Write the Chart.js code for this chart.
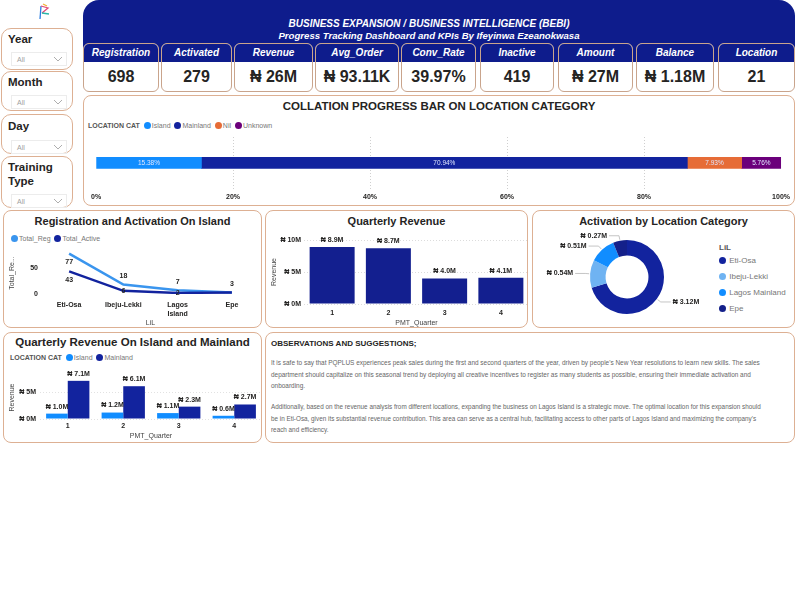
<!DOCTYPE html>
<html>
<head>
<meta charset="utf-8">
<script src="https://cdn.jsdelivr.net/npm/chart.js@4.4.1/dist/chart.umd.min.js"></script>
<style>
body{margin:0;width:800px;height:600px;background:#fff;font-family:"Liberation Sans",Arial,sans-serif;position:relative;overflow:hidden}
.abs{position:absolute}
.box{position:absolute;border:1px solid #ddb093;border-radius:8px;background:#fff;box-sizing:border-box}
.slicer{position:absolute;left:1px;width:72px;border:1px solid #ddb093;border-radius:10px;box-sizing:border-box;background:#fff}
.slicer .name{position:absolute;left:6px;font-weight:bold;font-size:11.5px;color:#252423;line-height:14px}
.slicer .dd{position:absolute;left:9px;width:56px;height:14px;border:1px solid #ececec;box-sizing:border-box;font-size:7px;color:#a0a0a0;line-height:13px;padding-left:5px}
.slicer .dd svg{position:absolute;right:4px;top:4px}
.ttl{position:absolute;left:0;right:0;text-align:center;font-weight:bold;font-size:11px;color:#252423;line-height:12px;white-space:nowrap}
.lg{position:absolute;font-size:7px;color:#777;white-space:nowrap;line-height:9px}
.lg b{color:#555;margin-right:2px}
.dot{display:inline-block;width:7px;height:7px;border-radius:50%;vertical-align:-1px;margin:0 1px 0 2px}
.cv{position:absolute}
.card{position:absolute;top:43px;height:49px;border:1px solid #c9a48c;border-radius:6px;box-sizing:border-box;overflow:hidden;background:#fff}
.card .hd{height:18px;background:#0e1c8c;color:#fff;font-style:italic;font-weight:bold;font-size:10px;line-height:18px;text-align:center}
.card .vl{font-weight:bold;font-size:16px;line-height:30px;text-align:center;color:#252423}
.obs div{white-space:nowrap;color:#666;line-height:11.6px}
</style>
</head>
<body>

<!-- logo -->
<svg class="abs" style="left:37px;top:2px" width="14" height="19" viewBox="0 0 14 19">
  <path d="M3 17 L4 4" stroke="#2a7de1" stroke-width="1.3" fill="none"/>
  <path d="M4 4 L11 6 L5 11" stroke="#e04a7a" stroke-width="1.3" fill="none"/>
  <path d="M5 11 L12 12" stroke="#29b6a8" stroke-width="1.3" fill="none"/>
  <path d="M6 2 L10 4" stroke="#f2b233" stroke-width="1.3" fill="none"/>
</svg>

<!-- slicers -->
<div class="slicer" style="top:28px;height:42px"><div class="name" style="top:3px">Year</div><div class="dd" style="top:23px">All<svg width="8" height="5"><polyline points="0,0 4,4 8,0" fill="none" stroke="#999" stroke-width="0.8"/></svg></div></div>
<div class="slicer" style="top:71px;height:40px"><div class="name" style="top:3px">Month</div><div class="dd" style="top:23px">All<svg width="8" height="5"><polyline points="0,0 4,4 8,0" fill="none" stroke="#999" stroke-width="0.8"/></svg></div></div>
<div class="slicer" style="top:114px;height:40px"><div class="name" style="top:4px">Day</div><div class="dd" style="top:25px">All<svg width="8" height="5"><polyline points="0,0 4,4 8,0" fill="none" stroke="#999" stroke-width="0.8"/></svg></div></div>
<div class="slicer" style="top:156px;height:52px"><div class="name" style="top:3px">Training<br>Type</div><div class="dd" style="top:37px">All<svg width="8" height="5"><polyline points="0,0 4,4 8,0" fill="none" stroke="#999" stroke-width="0.8"/></svg></div></div>

<!-- banner -->
<div class="abs" style="left:83px;top:0;width:712px;height:62px;background:#0e1c8c;border-radius:16px 16px 0 0"></div>
<div class="abs" style="left:83px;width:692px;top:18px;text-align:center;color:#fff;font-weight:bold;font-style:italic;font-size:10px;line-height:12px">BUSINESS EXPANSION / BUSINESS INTELLIGENCE (BEBI)</div>
<div class="abs" style="left:83px;width:692px;top:30px;text-align:center;color:#fff;font-weight:bold;font-style:italic;font-size:9.6px;line-height:11px">Progress Tracking Dashboard and KPIs By Ifeyinwa Ezeanokwasa</div>
<div id="cards"></div>

<!-- collation progress -->
<div class="box" style="left:83px;top:95px;width:712px;height:111px">
  <div class="ttl" style="top:4px;font-size:11.5px">COLLATION PROGRESS BAR ON LOCATION CATEGORY</div>
  <div class="lg" id="lgProg" style="left:4px;top:25px"></div>
</div>
<div class="cv" style="left:87px;top:132px;width:707px;height:77px"><canvas id="cProg"></canvas></div>

<!-- registration & activation -->
<div class="box" style="left:3px;top:210px;width:259px;height:118px">
  <div class="ttl" style="top:4px">Registration and Activation On Island</div>
  <div class="lg" id="lgLine" style="left:5px;top:23px"></div>
</div>
<div class="cv" style="left:6px;top:243px;width:253px;height:84px"><canvas id="cLine"></canvas></div>

<!-- quarterly revenue -->
<div class="box" style="left:265px;top:210px;width:263px;height:118px">
  <div class="ttl" style="top:4px">Quarterly Revenue</div>
</div>
<div class="cv" style="left:268px;top:230px;width:261px;height:97px"><canvas id="cQtr"></canvas></div>

<!-- activation donut -->
<div class="box" style="left:532px;top:210px;width:263px;height:118px">
  <div class="ttl" style="top:4px">Activation by Location Category</div>
  <div class="lg" id="lgDonut" style="left:186px;top:32px;line-height:16px;font-size:8px"></div>
</div>
<div class="cv" style="left:540px;top:232px;width:174px;height:90px"><canvas id="cDonut"></canvas></div>

<!-- island vs mainland -->
<div class="box" style="left:3px;top:332px;width:259px;height:111px">
  <div class="ttl" style="top:3px;font-size:11.5px">Quarterly Revenue On Island and Mainland</div>
  <div class="lg" id="lgGroup" style="left:6px;top:20px"></div>
</div>
<div class="cv" style="left:6px;top:362px;width:256px;height:78px"><canvas id="cGroup"></canvas></div>

<!-- observations -->
<div class="box obs" style="left:265px;top:332px;width:530px;height:111px">
  <div style="position:absolute;left:5px;top:5px;font-weight:bold;font-size:8px;color:#252423">OBSERVATIONS AND SUGGESTIONS;</div>
  <div id="p1" style="position:absolute;left:5px;top:24px;font-size:6px">
    <div>It is safe to say that PQPLUS experiences peak sales during the first and second quarters of the year, driven by people's New Year resolutions to learn new skills. The sales</div>
    <div>department should capitalize on this seasonal trend by deploying all creative incentives to register as many students as possible, ensuring their immediate activation and</div>
    <div>onboarding.</div>
  </div>
  <div id="p2" style="position:absolute;left:5px;top:68px;font-size:6px">
    <div>Additionally, based on the revenue analysis from different locations, expanding the business on Lagos Island is a strategic move. The optimal location for this expansion should</div>
    <div>be in Eti-Osa, given its substantial revenue contribution. This area can serve as a central hub, facilitating access to other parts of Lagos Island and maximizing the company's</div>
    <div>reach and efficiency.</div>
  </div>
</div>

<script>
// KPI values
const kpiLabels = ['Registration', 'Activated', 'Revenue', 'Avg_Order', 'Conv_Rate', 'Inactive', 'Amount', 'Balance', 'Location'];
const kpiValues = ['698', '279', '₦ 26M', '₦ 93.11K', '39.97%', '419', '₦ 27M', '₦ 1.18M', '21'];

// collation progress bar
const locationCats = ['Island', 'Mainland', 'Nil', 'Unknown'];
const locationShare = [15.38, 70.94, 7.93, 5.76];

// registration vs activation on island
const islandAreas = [['Eti-Osa'], ['Ibeju-Lekki'], ['Lagos', 'Island'], ['Epe']];
const totalReg = [77, 18, 7, 3];
const totalActive = [43, 6, 2, 3];

// quarterly revenue (millions)
const quarters = ['1', '2', '3', '4'];
const quarterlyRevenue = [8.9, 8.7, 4.0, 4.1];

// activation by location (millions)
const lilNames = ['Eti-Osa', 'Ibeju-Lekki', 'Lagos Mainland', 'Epe'];
const lilActivation = [3.12, 0.54, 0.51, 0.27];

// quarterly revenue island / mainland (millions)
const islandRevenue = [1.0, 1.2, 1.1, 0.6];
const mainlandRevenue = [7.1, 6.1, 2.3, 2.7];

const NAVY = '#12239E', BLUE = '#118DFF', ORANGE = '#E66C37', PURPLE = '#6B007B';
const catColors = [BLUE, NAVY, ORANGE, PURPLE];
const lilColors = [NAVY, '#6fb3f2', BLUE, '#14208a'];
const FONT = '"Liberation Sans", Arial, sans-serif';

Chart.defaults.font.family = FONT;
Chart.defaults.color = '#252423';

// cards
const cardPos = [[83,76],[161,71],[234,79],[315,84],[401,75],[480,74],[558,75],[636,78],[718,77]];
document.getElementById('cards').innerHTML = kpiLabels.map((l, i) =>
  `<div class="card" style="left:${cardPos[i][0]}px;width:${cardPos[i][1]}px"><div class="hd">${l}</div><div class="vl">${kpiValues[i]}</div></div>`
).join('');

// html legends
function legendHtml(title, names, colors) {
  return (title ? `<b>${title}</b>` : '') + names.map((n, i) =>
    `<span class="dot" style="background:${colors[i]}"></span>${n}`).join(' ');
}
document.getElementById('lgProg').innerHTML = legendHtml('LOCATION CAT', locationCats, catColors);
document.getElementById('lgLine').innerHTML = legendHtml('', ['Total_Reg', 'Total_Active'], ['#3a95ee', NAVY]);
document.getElementById('lgGroup').innerHTML = legendHtml('LOCATION CAT', ['Island', 'Mainland'], [BLUE, NAVY]);
document.getElementById('lgDonut').innerHTML = '<div style="line-height:10px"><b style="color:#555">LiL</b></div>' +
  lilNames.map((n, i) => `<span class="dot" style="background:${lilColors[i]};margin-left:0"></span> ${n}`).join('<br>');

// fit observation text width
['p1', 'p2'].forEach(id => {
  const el = document.getElementById(id);
  const w = Math.max(...[...el.children].map(c => c.scrollWidth));
  el.style.fontSize = (6 * 490 / w) + 'px';
});

// small data-label plugin
const valueLabels = {
  id: 'valueLabels',
  afterDatasetsDraw(chart, args, opts) {
    if (!opts.mode) return;
    const ctx = chart.ctx, area = chart.chartArea;
    ctx.save();
    ctx.font = opts.font || `bold 7px ${FONT}`;
    ctx.textAlign = 'center';
    ctx.textBaseline = 'middle';
    ctx.fillStyle = opts.color || '#252423';
    const drawn = [];
    chart.data.datasets.forEach((ds, di) => {
      const meta = chart.getDatasetMeta(di);
      meta.data.forEach((el, i) => {
        const text = opts.fmt(ds.data[i]);
        let x = el.x, y;
        if (opts.mode === 'hcenter') {
          x = (el.x + el.base) / 2; y = el.y;
        } else if (opts.mode === 'top') {
          y = el.y - 7;
        } else if (di === 0) {
          y = el.y - 12 > area.top ? el.y - 8 : el.y + 8;
        } else {
          y = el.y + 13 < area.bottom ? el.y + 9 : el.y;
        }
        const w = ctx.measureText(text).width;
        const r = { l: x - w / 2, r: x + w / 2, t: y - 5, b: y + 5 };
        if (opts.mode === 'line' && drawn.some(d => d.l < r.r && r.l < d.r && d.t < r.b && r.t < d.b)) return;
        drawn.push(r);
        ctx.fillText(text, x, y);
      });
    });
    ctx.restore();
  }
};

const donutLabels = {
  id: 'donutLabels',
  afterDatasetsDraw(chart) {
    const ctx = chart.ctx;
    const meta = chart.getDatasetMeta(0);
    ctx.save();
    ctx.font = `bold 7px ${FONT}`;
    ctx.textBaseline = 'middle';
    ctx.strokeStyle = '#b5b5b5';
    ctx.lineWidth = 0.8;
    ctx.fillStyle = '#252423';
    meta.data.forEach((arc, i) => {
      const mid = (arc.startAngle + arc.endAngle) / 2;
      const r = arc.outerRadius;
      const c = Math.cos(mid), s = Math.sin(mid);
      const side = c >= 0 ? 1 : -1;
      const x1 = arc.x + c * (r + 1), y1 = arc.y + s * (r + 1);
      const x2 = arc.x + c * (r + 5), y2 = arc.y + s * (r + 5);
      const x3 = x2 + side * 10;
      ctx.beginPath();
      ctx.moveTo(x1, y1); ctx.lineTo(x2, y2); ctx.lineTo(x3, y2);
      ctx.stroke();
      ctx.textAlign = side > 0 ? 'left' : 'right';
      ctx.fillText('₦ ' + lilActivation[i].toFixed(2) + 'M', x3 + side * 2, y2);
    });
    ctx.restore();
  }
};

function baseOptions() {
  return {
    responsive: true,
    maintainAspectRatio: false,
    animation: false,
    plugins: { legend: { display: false }, tooltip: { enabled: false } }
  };
}
const tickFont = { size: 7, weight: 'bold' };
const titleFont = { size: 7 };
const fixWidth = w => scale => { scale.width = w; };
const fixHeight = h => scale => { scale.height = h; };

// collation progress bar
new Chart(document.getElementById('cProg'), {
  type: 'bar',
  data: {
    labels: ['Share'],
    datasets: locationCats.map((c, i) => ({
      label: c, data: [locationShare[i]], backgroundColor: catColors[i], barThickness: 11
    }))
  },
  options: {
    ...baseOptions(),
    indexAxis: 'y',
    layout: { padding: { left: 2, right: 0, top: 5, bottom: 4 } },
    scales: {
      x: {
        stacked: true, min: 0, max: 100,
        ticks: { stepSize: 20, callback: v => v + '%', font: tickFont, padding: 4 },
        grid: { drawTicks: false, color: ctx => (ctx.tick.value % 100 === 0) ? 'transparent' : '#cfcfcf' },
        border: { display: false, dash: [1, 2] }
      },
      y: { stacked: true, display: false }
    },
    plugins: {
      ...baseOptions().plugins,
      valueLabels: { mode: 'hcenter', fmt: v => v.toFixed(2) + '%', color: '#dfe6ff', font: `6.5px ${FONT}` }
    }
  },
  plugins: [valueLabels]
});

// registration and activation line chart
new Chart(document.getElementById('cLine'), {
  type: 'line',
  data: {
    labels: islandAreas,
    datasets: [
      { label: 'Total_Reg', data: totalReg, borderColor: '#3a95ee', borderWidth: 2.5, pointRadius: 0, order: 1 },
      { label: 'Total_Active', data: totalActive, borderColor: NAVY, borderWidth: 2.5, pointRadius: 0, order: 0 }
    ]
  },
  options: {
    ...baseOptions(),
    layout: { padding: { left: 0, right: 0, top: 9, bottom: 0 } },
    scales: {
      x: {
        offset: true,
        afterFit: fixHeight(33),
        grid: { display: false, drawTicks: false }, border: { display: false },
        ticks: { font: tickFont, padding: 7, maxRotation: 0, autoSkip: false },
        title: { display: true, text: 'LiL', font: titleFont, color: '#444', padding: { top: 0, bottom: 0 } }
      },
      y: {
        min: 0, max: 80,
        afterFit: fixWidth(36),
        ticks: { stepSize: 50, includeBounds: false, font: tickFont, padding: 4 },
        grid: { display: false, drawTicks: false }, border: { display: false },
        title: { display: true, text: 'Total_Re...', font: titleFont, color: '#444', padding: { top: 2, bottom: 4 } }
      }
    },
    plugins: { ...baseOptions().plugins, valueLabels: { mode: 'line', fmt: v => String(v) } }
  },
  plugins: [valueLabels]
});

// quarterly revenue
new Chart(document.getElementById('cQtr'), {
  type: 'bar',
  data: {
    labels: quarters,
    datasets: [{ label: 'Revenue', data: quarterlyRevenue, backgroundColor: '#131f8f', barPercentage: 0.8, categoryPercentage: 1 }]
  },
  options: {
    ...baseOptions(),
    layout: { padding: { left: 0, right: 0, top: 10, bottom: 0 } },
    scales: {
      x: {
        afterFit: fixHeight(23),
        grid: { display: false, drawTicks: false }, border: { display: false },
        ticks: { font: tickFont, padding: 5 },
        title: { display: true, text: 'PMT_Quarter', font: titleFont, color: '#444', padding: { top: 0, bottom: 0 } }
      },
      y: {
        min: 0, max: 10,
        afterFit: fixWidth(36),
        ticks: { stepSize: 5, callback: v => '₦ ' + v + 'M', font: tickFont, padding: 3 },
        grid: { color: '#dcdcdc', drawTicks: false }, border: { display: false, dash: [1, 2] },
        title: { display: true, text: 'Revenue', font: titleFont, color: '#444', padding: { top: 2, bottom: 3 } }
      }
    },
    plugins: { ...baseOptions().plugins, valueLabels: { mode: 'top', fmt: v => '₦ ' + v.toFixed(1) + 'M' } }
  },
  plugins: [valueLabels]
});

// activation donut
new Chart(document.getElementById('cDonut'), {
  type: 'doughnut',
  data: {
    labels: lilNames,
    datasets: [{ data: lilActivation, backgroundColor: lilColors, borderWidth: 0 }]
  },
  options: {
    ...baseOptions(),
    cutout: '58%',
    layout: { padding: 8 }
  },
  plugins: [donutLabels]
});

// island vs mainland grouped bars
new Chart(document.getElementById('cGroup'), {
  type: 'bar',
  data: {
    labels: quarters,
    datasets: [
      { label: 'Island', data: islandRevenue, backgroundColor: BLUE, barPercentage: 1, categoryPercentage: 0.78 },
      { label: 'Mainland', data: mainlandRevenue, backgroundColor: NAVY, barPercentage: 1, categoryPercentage: 0.78 }
    ]
  },
  options: {
    ...baseOptions(),
    layout: { padding: { left: 0, right: 0, top: 14, bottom: 0 } },
    scales: {
      x: {
        afterFit: fixHeight(21),
        grid: { display: false, drawTicks: false }, border: { display: false },
        ticks: { font: tickFont, padding: 3 },
        title: { display: true, text: 'PMT_Quarter', font: titleFont, color: '#444', padding: { top: 0, bottom: 0 } }
      },
      y: {
        min: 0, max: 8,
        afterFit: fixWidth(34),
        ticks: { stepSize: 5, includeBounds: false, callback: v => '₦ ' + v + 'M', font: tickFont, padding: 4 },
        grid: { color: '#e2e2e2', drawTicks: false }, border: { display: false, dash: [1, 2] },
        title: { display: true, text: 'Revenue', font: titleFont, color: '#444', padding: { top: 2, bottom: 4 } }
      }
    },
    plugins: { ...baseOptions().plugins, valueLabels: { mode: 'top', fmt: v => '₦ ' + v.toFixed(1) + 'M' } }
  },
  plugins: [valueLabels]
});
</script>
</body>
</html>
